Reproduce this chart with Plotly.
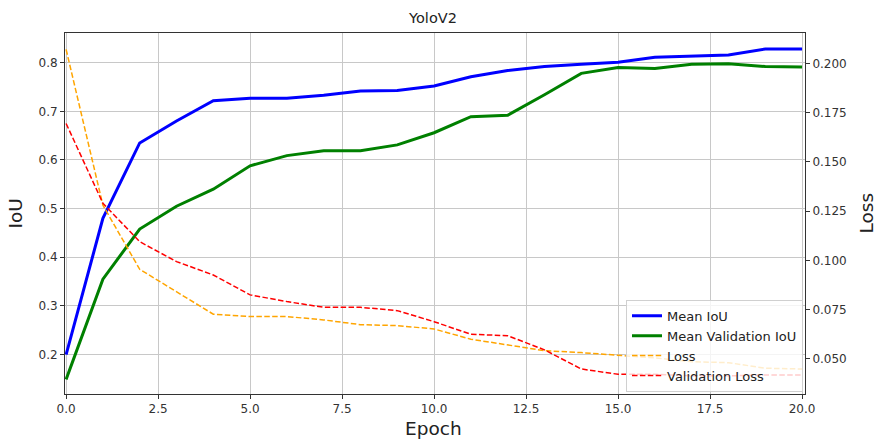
import plotly.graph_objects as go

epochs = list(range(21))
mean_iou = [0.200, 0.480, 0.635, 0.680, 0.722, 0.727, 0.727, 0.733, 0.742, 0.743, 0.752,
            0.771, 0.784, 0.792, 0.797, 0.801, 0.811, 0.813, 0.816, 0.828, 0.828]
val_iou = [0.149, 0.355, 0.458, 0.505, 0.540, 0.588, 0.609, 0.619, 0.619, 0.631, 0.656,
           0.689, 0.692, 0.734, 0.778, 0.790, 0.788, 0.797, 0.798, 0.792, 0.791]
loss = [0.2071, 0.128, 0.0955, 0.084, 0.0727, 0.0715, 0.0715, 0.0698, 0.0674, 0.0669, 0.0652,
        0.0600, 0.0570, 0.0542, 0.0532, 0.0520, 0.0505, 0.0486, 0.0481, 0.0453, 0.0449]
val_loss = [0.1695, 0.129, 0.1095, 0.0994, 0.0926, 0.0825, 0.0791, 0.0762, 0.0762, 0.0745, 0.0689,
            0.0625, 0.0618, 0.0546, 0.0449, 0.0422, 0.0422, 0.0414, 0.0414, 0.0419, 0.0419]

x_ticks = [0, 2.5, 5, 7.5, 10, 12.5, 15, 17.5, 20]
x_tick_text = ["0.0", "2.5", "5.0", "7.5", "10.0", "12.5", "15.0", "17.5", "20.0"]
iou_ticks = [0.2, 0.3, 0.4, 0.5, 0.6, 0.7, 0.8]
loss_ticks = [0.050, 0.075, 0.100, 0.125, 0.150, 0.175, 0.200]

FONT = "DejaVu Sans"
TICKCOL = "#333333"
TXT = "#222222"

fig = go.Figure()
fig.add_trace(go.Scatter(x=epochs, y=mean_iou, mode="lines", name="Mean IoU",
                         line=dict(color="#0000ff", width=3)))
fig.add_trace(go.Scatter(x=epochs, y=val_iou, mode="lines", name="Mean Validation IoU",
                         line=dict(color="#008000", width=3)))
fig.add_trace(go.Scatter(x=epochs, y=loss, mode="lines", name="Loss", yaxis="y2",
                         line=dict(color="#ffa500", width=1.5, dash="5.5px,2.4px")))
fig.add_trace(go.Scatter(x=epochs, y=val_loss, mode="lines", name="Validation Loss", yaxis="y2",
                         line=dict(color="#ff0000", width=1.5, dash="5.5px,2.4px")))

axis_common = dict(showline=True, linecolor="#333333", linewidth=1, ticks="outside",
                   ticklen=4, tickcolor="#333333", zeroline=False,
                   tickfont=dict(family=FONT, size=12, color=TICKCOL))

fig.update_layout(
    width=876, height=439,
    margin=dict(l=65, r=71, t=33, b=45),
    plot_bgcolor="white", paper_bgcolor="white",
    font=dict(family=FONT, color=TXT),
    title=dict(text="YoloV2", x=433 / 876, xanchor="center",
               y=1 - 18 / 439, yanchor="middle", yref="container",
               font=dict(family=FONT, size=14.5, color=TXT)),
    xaxis=dict(range=[-0.03, 20.08], tickvals=x_ticks, ticktext=x_tick_text,
               showgrid=True, gridcolor="#c8c8c8", gridwidth=1, mirror=True, **axis_common),
    yaxis=dict(range=[0.119, 0.861], tickvals=iou_ticks, tickformat=".1f",
               showgrid=True, gridcolor="#c8c8c8", gridwidth=1, mirror=True, **axis_common),
    yaxis2=dict(range=[0.0322, 0.2154], tickvals=loss_ticks, tickformat=".3f",
                overlaying="y", side="right", showgrid=False, **axis_common),
    legend=dict(x=(803 - 65) / 740, xanchor="right", y=0.006, yanchor="bottom",
                bgcolor="rgba(255,255,255,0.8)", bordercolor="#d0d0d0", borderwidth=1,
                font=dict(family=FONT, size=13, color=TXT), tracegroupgap=0),
    showlegend=True,
    annotations=[
        dict(text="IoU", xref="paper", yref="paper", x=-50 / 740, y=0.5,
             xanchor="center", yanchor="middle", textangle=-90, showarrow=False,
             font=dict(family=FONT, size=18.5, color=TXT)),
        dict(text="Loss", xref="paper", yref="paper", x=(866 - 65) / 740, y=0.5,
             xanchor="center", yanchor="middle", textangle=-90, showarrow=False,
             font=dict(family=FONT, size=18.5, color=TXT)),
        dict(text="Epoch", xref="paper", yref="paper", x=(433 - 65) / 740, y=-(428 - 394) / 361,
             xanchor="center", yanchor="middle", showarrow=False,
             font=dict(family=FONT, size=18.5, color=TXT)),
    ],
)

fig.write_html("out.html", config={"displayModeBar": False},
               post_script="document.body.style.margin='0';document.body.style.overflow='hidden';")
